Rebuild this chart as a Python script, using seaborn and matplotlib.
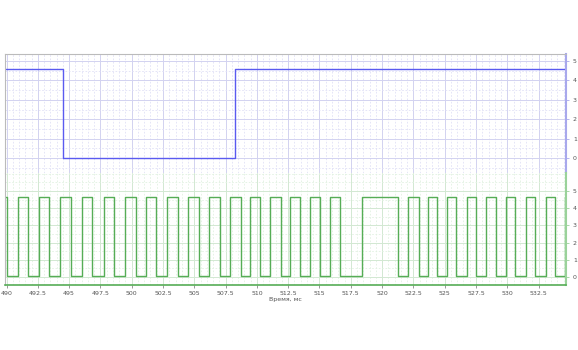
import numpy as np
import pandas as pd
import matplotlib
matplotlib.use("Agg")
import matplotlib.pyplot as plt
import seaborn as sns
from matplotlib.ticker import MultipleLocator, FuncFormatter

sns.set_theme(style="white")
plt.rcParams['font.family'] = ['DejaVu Sans']

# ---- data (times in ms, levels in V) ----
blue_times = [489.88, 494.51, 508.25, 534.69]
blue_levels = [4.59, 0.0, 4.60, 4.60]

green_times = [489.88, 490.05, 490.92, 491.72, 492.60, 493.40, 494.27, 495.15,
               496.03, 496.83, 497.79, 498.59, 499.47, 500.34, 501.14, 501.94,
               502.82, 503.70, 504.50, 505.38, 506.17, 507.05, 507.85, 508.73,
               509.45, 510.25, 511.05, 511.92, 512.64, 513.44, 514.24, 515.04,
               515.84, 516.64, 518.41, 521.27, 522.08, 522.96, 523.68, 524.40,
               525.20, 525.90, 526.80, 527.50, 528.30, 529.10, 529.90, 530.60,
               531.50, 532.20, 533.10, 533.80, 534.60, 534.69]
green_high = 4.62
green_low = 0.05

x_ticks = [490, 492.5, 495, 497.5, 500, 502.5, 505, 507.5, 510, 512.5, 515,
           517.5, 520, 522.5, 525, 527.5, 530, 532.5]
y_ticks = [0, 1, 2, 3, 4, 5]
x_label = "Время, мс"

green_levels = [green_high if i % 2 == 0 else green_low for i in range(len(green_times))]

blue_df = pd.DataFrame({"t": blue_times, "v": blue_levels})
green_df = pd.DataFrame({"t": green_times, "v": green_levels})

W, H = 578, 350
fig = plt.figure(figsize=(W / 100, H / 100), dpi=100)
left, right = 5 / W, 566 / W
top_y, mid_y, bot_y = 54, 173, 285
ax1 = fig.add_axes([left, 1 - mid_y / H, right - left, (mid_y - top_y) / H])
ax2 = fig.add_axes([left, 1 - bot_y / H, right - left, (bot_y - mid_y) / H])

xlim = (489.88, 534.69)
blue = "#5a5af0"
green = "#56ad56"

sns.lineplot(data=blue_df, x="t", y="v", ax=ax1, color=blue, lw=1.0,
             drawstyle="steps-post", estimator=None)
sns.lineplot(data=green_df, x="t", y="v", ax=ax2, color=green, lw=1.0,
             drawstyle="steps-post", estimator=None)

configs = [(ax1, (-0.77, 5.36), "#d2d2f0", "#e0e0f6", "#a8a8ec"),
           (ax2, (-0.46, 6.04), "#d2e8d2", "#e2f1e2", "#9ad29a")]
for ax, ylim, gmaj, gmin, scol in configs:
    ax.set_xlim(*xlim)
    ax.set_ylim(*ylim)
    ax.xaxis.set_major_locator(MultipleLocator(2.5))
    ax.xaxis.set_minor_locator(MultipleLocator(0.5))
    ax.set_yticks(y_ticks)
    ax.yaxis.set_minor_locator(MultipleLocator(0.5))
    ax.grid(which="major", color=gmaj, lw=0.7, ls="-")
    ax.grid(which="minor", color=gmin, lw=0.6, ls=(0, (2, 2)))
    ax.set_axisbelow(True)
    ax.yaxis.tick_right()
    ax.tick_params(axis="y", which="major", labelsize=4.5, labelcolor="#555555",
                   length=2, width=0.6, color=scol, pad=3, right=True, left=False)
    ax.tick_params(axis="y", which="minor", length=0, right=False, left=False)
    ax.set_xlabel("")
    ax.set_ylabel("")
    for s in ["left", "top"]:
        ax.spines[s].set_color("#bbbbbb")
        ax.spines[s].set_linewidth(0.8)
    ax.spines["right"].set_color(scol)
    ax.spines["right"].set_linewidth(1.5)
    ax.spines["bottom"].set_visible(False)

ax1.spines["top"].set_color("#bbbbbb")
ax2.spines["top"].set_visible(False)
ax1.tick_params(axis="x", which="both", bottom=False, labelbottom=False)
ax2.spines["bottom"].set_visible(True)
ax2.spines["bottom"].set_color(green)
ax2.spines["bottom"].set_linewidth(1.2)
ax2.set_xticks(x_ticks)
ax2.xaxis.set_major_formatter(FuncFormatter(lambda v, p: f"{v:g}"))
ax2.tick_params(axis="x", which="major", labelsize=4.5, labelcolor="#555555",
                length=2, width=0.6, color="#888888", pad=2, bottom=True)
ax2.tick_params(axis="x", which="minor", length=0)
ax2.set_xlabel(x_label, fontsize=4.5, color="#555555", labelpad=1)

fig.savefig("out.png", dpi=100)
